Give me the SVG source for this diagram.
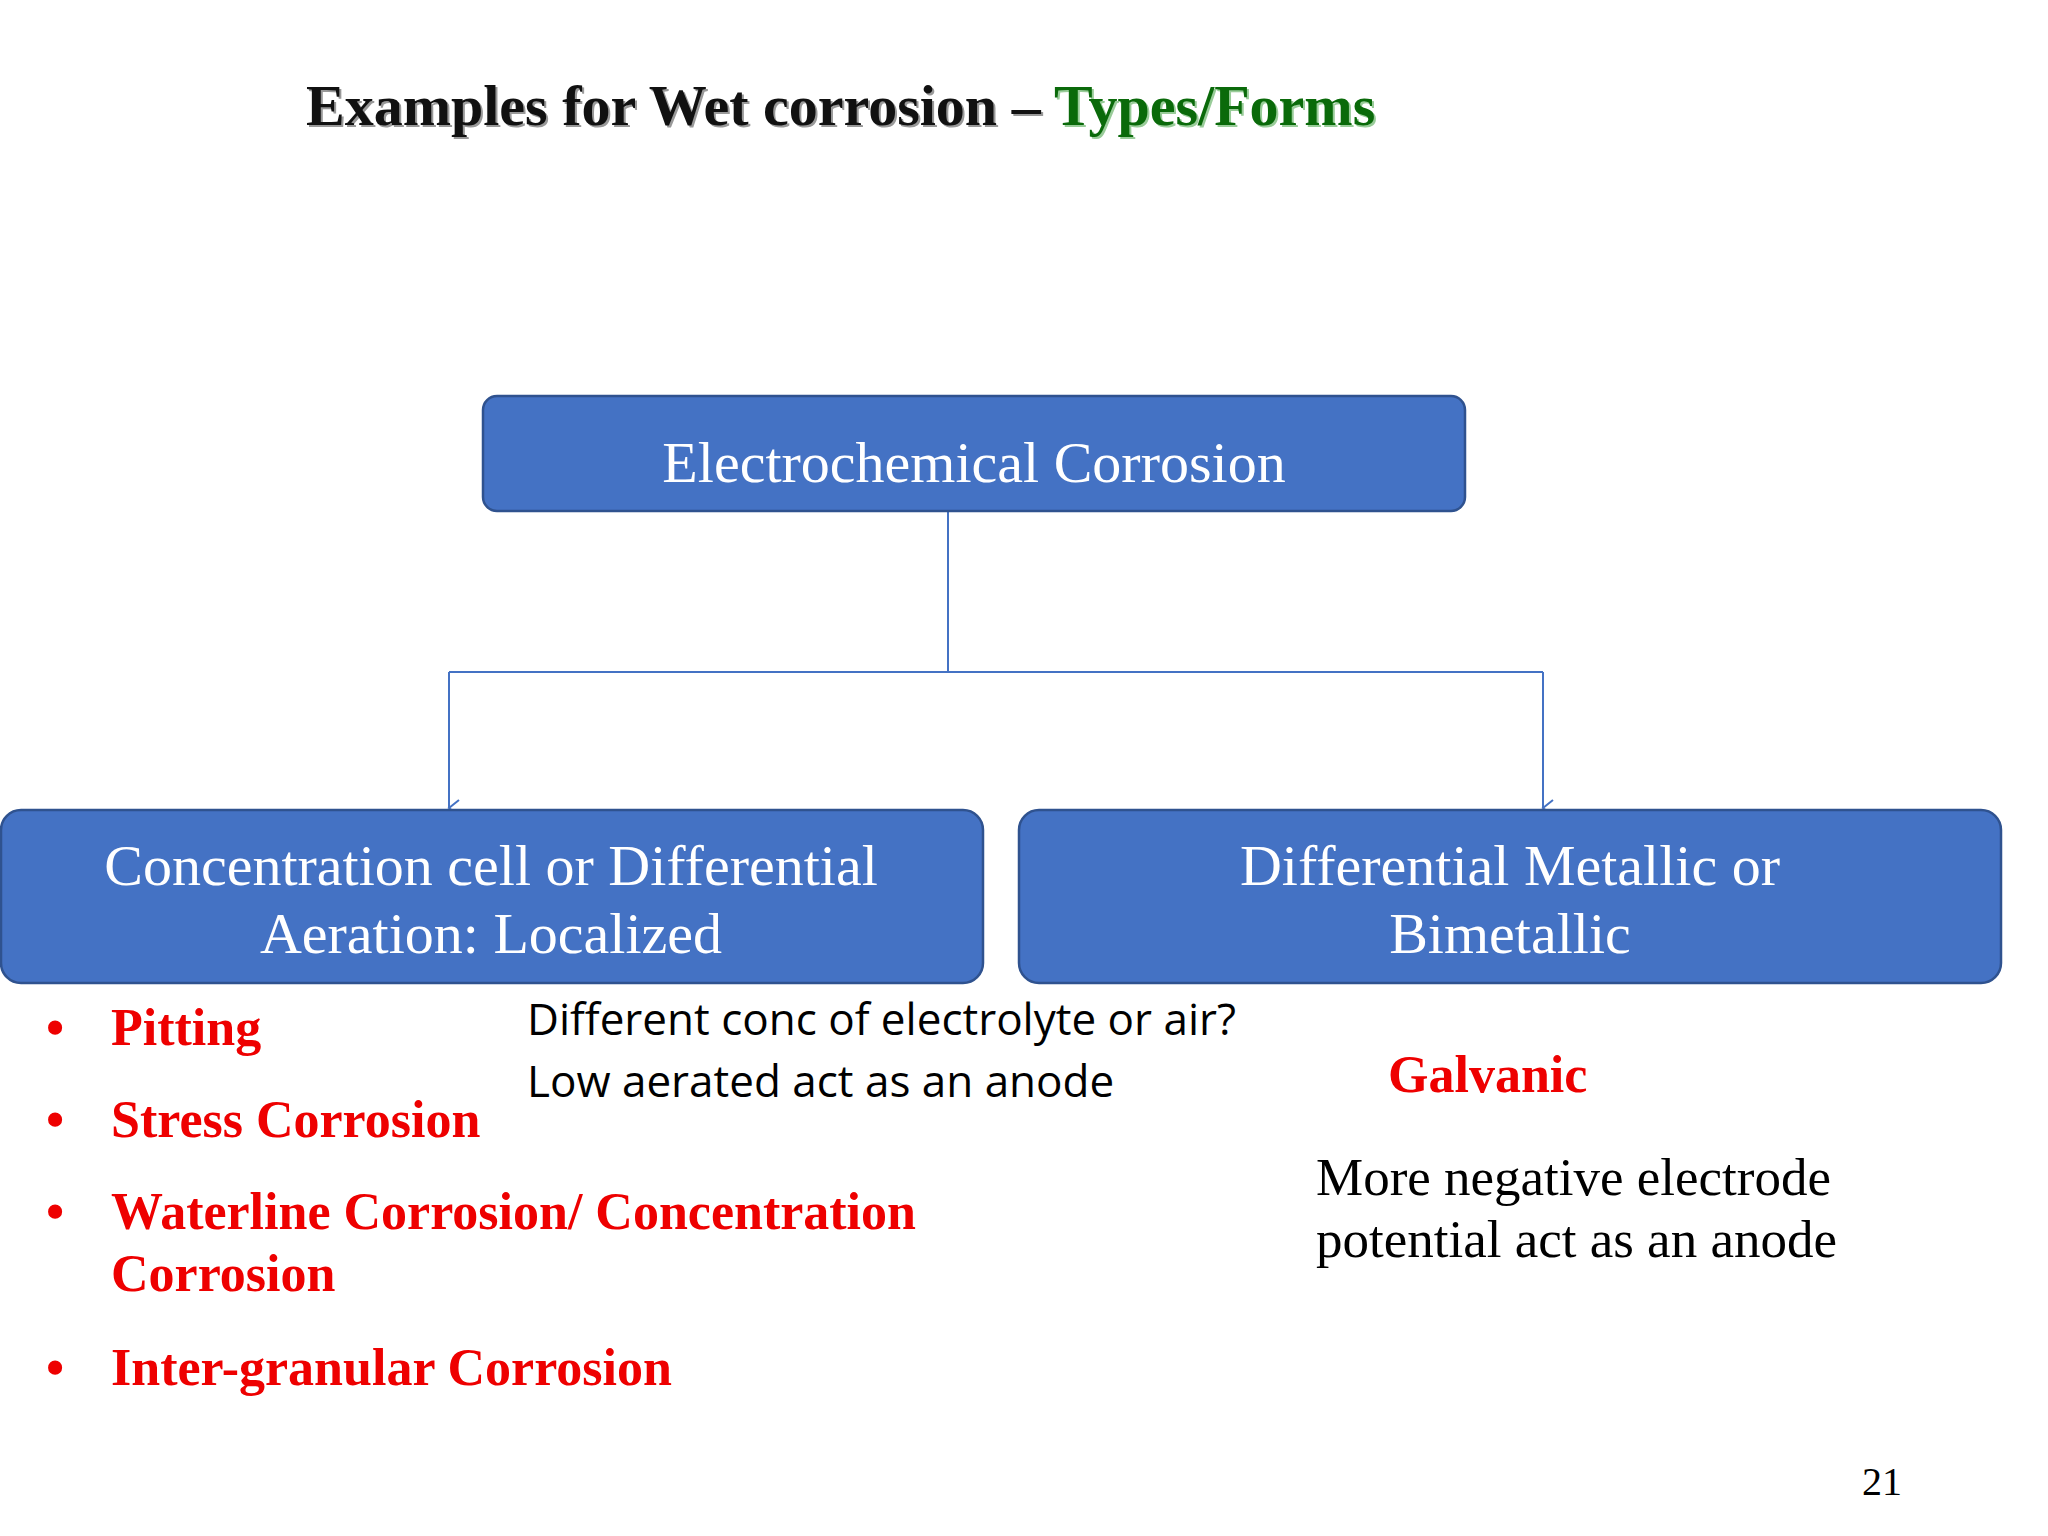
<svg xmlns="http://www.w3.org/2000/svg" width="2048" height="1536" viewBox="0 0 2048 1536">
<style>
.box{fill:#4472c4;stroke:#2f528f;stroke-width:2.5}
.bt{font-family:"Liberation Serif",serif;fill:#fff;font-size:58px;text-anchor:middle}
.red{font-family:"Liberation Serif",serif;font-weight:bold;fill:#e00;font-size:52px}
.note{font-family:"Open Sans","Noto Sans",sans-serif;font-size:44px;fill:#000}
.ser{font-family:"Liberation Serif",serif;font-size:53px;fill:#000}
</style>
<defs><marker id="a" markerWidth="20" markerHeight="20" refX="10" refY="16" orient="auto" markerUnits="userSpaceOnUse"><path d="M2,6 L10,16 L18,6" fill="none" stroke="#4472c4" stroke-width="2"/></marker></defs>
<rect width="2048" height="1536" fill="#fff"/>
<g id="title" font-family="Liberation Serif,serif" font-weight="bold" font-size="58px">
<text x="308" y="127" fill="#999">Examples for Wet corrosion – <tspan fill="#9c9">Types/Forms</tspan></text>
<text x="306" y="125" fill="#111">Examples for Wet corrosion – <tspan fill="#0a6a0a">Types/Forms</tspan></text>
</g>
<g id="connectors" stroke="#4472c4" stroke-width="2" fill="none">
<path d="M948,511 V672"/>
<path d="M449,672 H1543"/>
<path d="M449,672 V808" marker-end="url(#a)"/>
<path d="M1543,672 V808" marker-end="url(#a)"/>
</g>
<g id="root"><rect class="box" x="483" y="396" width="982" height="115" rx="14"/><text class="bt" x="974" y="482" font-size="69px">Electrochemical Corrosion</text></g>
<g id="left"><rect class="box" x="1" y="810" width="982" height="173" rx="20"/><text class="bt" x="491" y="885">Concentration cell or Differential</text><text class="bt" x="491" y="953">Aeration: Localized</text></g>
<g id="right"><rect class="box" x="1019" y="810" width="982" height="173" rx="20"/><text class="bt" x="1510" y="885">Differential Metallic or</text><text class="bt" x="1510" y="953">Bimetallic</text></g>
<g id="bullets">
<text class="red" x="46" y="1045" font-weight="normal" font-family="Liberation Sans,sans-serif" font-size="40px">•</text>
<text class="red" x="111" y="1045">Pitting</text>
<text class="red" x="46" y="1137" font-weight="normal" font-family="Liberation Sans,sans-serif" font-size="40px">•</text>
<text class="red" x="111" y="1137">Stress Corrosion</text>
<text class="red" x="46" y="1229" font-weight="normal" font-family="Liberation Sans,sans-serif" font-size="40px">•</text>
<text class="red" x="111" y="1229">Waterline Corrosion/ Concentration</text>
<text class="red" x="111" y="1291">Corrosion</text>
<text class="red" x="46" y="1385" font-weight="normal" font-family="Liberation Sans,sans-serif" font-size="40px">•</text>
<text class="red" x="111" y="1385">Inter-granular Corrosion</text>
</g>
<g id="notes">
<text class="note" x="527" y="1035">Different conc of electrolyte or air?</text>
<text class="note" x="527" y="1097">Low aerated act as an anode</text>
<text class="red" x="1388" y="1092">Galvanic</text>
<text class="ser" x="1316" y="1195">More negative electrode</text>
<text class="ser" x="1316" y="1257">potential act as an anode</text>
<text x="1862" y="1495" font-family="Liberation Serif,serif" font-size="40px">21</text>
</g>
</svg>
